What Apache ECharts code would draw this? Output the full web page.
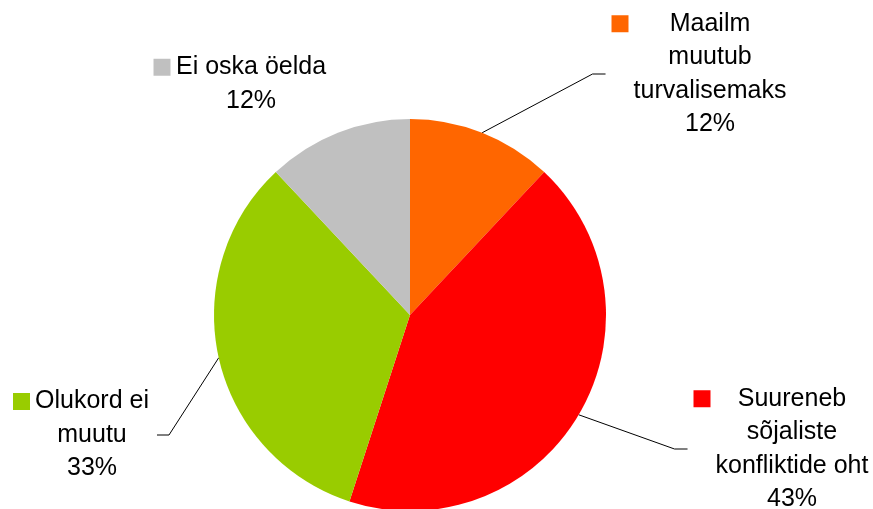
<!DOCTYPE html>
<html>
<head>
<meta charset="utf-8">
<script src="https://cdn.jsdelivr.net/npm/echarts@6/dist/echarts.min.js"></script>
<style>
  html, body { margin: 0; padding: 0; background: #fff; }
  #main { width: 873px; height: 509px; }
</style>
</head>
<body>
<div id="main"></div>
<script>
var names = ['Maailm\nmuutub\nturvalisemaks', 'Suureneb\nsõjaliste\nkonfliktide oht', 'Olukord ei\nmuutu', 'Ei oska öelda'];
var values = [12, 43, 33, 12];
var colors = ['#FF6600', '#FF0000', '#99CC00', '#C0C0C0'];

// where each label block sits (centre of the text, middle of block) and which side the line comes in
var labelPos = [[710, 74], [792, 449], [92, 435], [251, 84]];
var lineSide = ['left', 'left', 'right', 'none'];

var FONT = 'Liberation Sans, Arial, sans-serif';
var FSIZE = 25;
var PAD = 22; // square 17 + gap 5

var ctx = document.createElement('canvas').getContext('2d');
ctx.font = FSIZE + 'px ' + FONT;
function maxWidth(lines) {
  var m = 0;
  lines.forEach(function (l) { m = Math.max(m, ctx.measureText(l).width); });
  return Math.ceil(m);
}

var rich = {
  t: { fontSize: FSIZE, fontFamily: FONT, color: '#000', lineHeight: 33.5, align: 'center' },
  pad: { width: PAD, height: 17, align: 'left' },
  gap: { width: 5, height: 17, align: 'left' }
};
colors.forEach(function (c, i) {
  rich['sq' + i] = { width: 17, height: 17, backgroundColor: c, align: 'left' };
});

var data = names.map(function (n, i) {
  var lines = n.split('\n').concat([values[i] + '%']);
  return {
    name: n,
    value: values[i],
    itemStyle: { color: colors[i] },
    label: { width: maxWidth(lines) + PAD },
    labelLine: { show: lineSide[i] !== 'none' }
  };
});

var chart = echarts.init(document.getElementById('main'));

chart.setOption({
  animation: false,
  backgroundColor: '#fff',
  series: [{
    type: 'pie',
    center: [410, 315],
    radius: 196,
    startAngle: 90,
    clockwise: true,
    avoidLabelOverlap: false,
    itemStyle: { borderWidth: 0 },
    emphasis: { disabled: true },
    label: {
      show: true,
      position: 'outside',
      rich: rich,
      formatter: function (p) {
        var lines = p.name.split('\n').concat([p.value + '%']);
        return lines.map(function (l, k) {
          return (k === 0 ? '{sq' + p.dataIndex + '|}{gap|}' : '{pad|}') + '{t|' + l + '}';
        }).join('\n');
      }
    },
    labelLine: {
      show: true,
      length: 20,
      length2: 10,
      lineStyle: { color: '#000', width: 1 }
    },
    labelLayout: function (params) {
      var i = params.dataIndex;
      var pos = labelPos[i];
      var w = params.labelRect.width;
      var x = pos[0] - PAD / 2;
      var y = pos[1];
      var res = { x: x, y: y, align: 'center', verticalAlign: 'middle' };
      var pts = params.labelLinePoints;
      if (pts && lineSide[i] !== 'none') {
        var start = pts[0];
        var end, elbow;
        if (lineSide[i] === 'left') {
          end = [x - w / 2 - 6, y];
          elbow = [end[0] - 13, y];
        } else {
          end = [x + w / 2 + 8, y];
          elbow = [end[0] + 12, y];
        }
        res.labelLinePoints = [start, elbow, end];
      }
      return res;
    },
    data: data
  }]
});
</script>
</body>
</html>
